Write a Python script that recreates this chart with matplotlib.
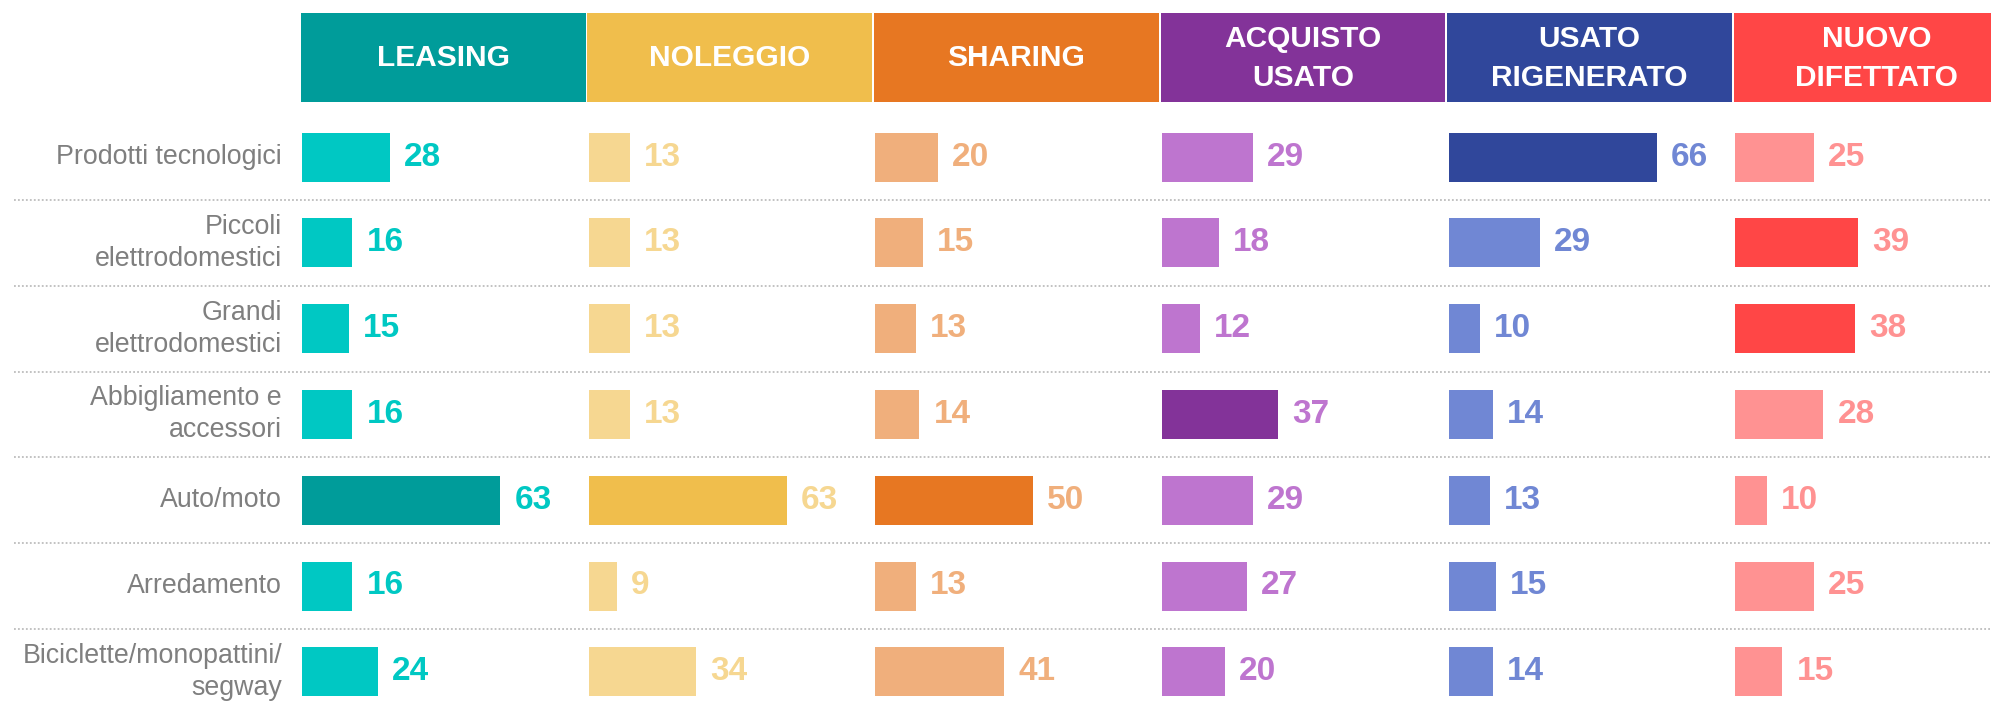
import matplotlib
matplotlib.use("Agg")
import matplotlib.pyplot as plt
from matplotlib.patches import Rectangle
import numpy as np

plt.rcParams['font.family'] = ['Liberation Sans', 'DejaVu Sans']

# --- data -------------------------------------------------------------
categories = [
    "Prodotti tecnologici",
    "Piccoli\nelettrodomestici",
    "Grandi\nelettrodomestici",
    "Abbigliamento e\naccessori",
    "Auto/moto",
    "Arredamento",
    "Biciclette/monopattini/\nsegway",
]
headers = ["LEASING", "NOLEGGIO", "SHARING", "ACQUISTO\nUSATO",
           "USATO\nRIGENERATO", "NUOVO\nDIFETTATO"]

leasing = [28, 16, 15, 16, 63, 16, 24]
noleggio = [13, 13, 13, 13, 63, 9, 34]
sharing = [20, 15, 13, 14, 50, 13, 41]
acquisto_usato = [29, 18, 12, 37, 29, 27, 20]
usato_rigenerato = [66, 29, 10, 14, 13, 15, 14]
nuovo_difettato = [25, 39, 38, 28, 10, 25, 15]

series = [leasing, noleggio, sharing, acquisto_usato,
          usato_rigenerato, nuovo_difettato]

dark_colors = ["#009C9A", "#F0BE4C", "#E77722", "#833399", "#30479B", "#FF4646"]
light_colors = ["#00C8C3", "#F6D791", "#F0AF7C", "#BE75CF", "#7087D4", "#FF9292"]

# --- layout (pixels of the 1991x705 canvas) ---------------------------
W, H = 1991, 705
px_unit = 3.15          # pixels per percentage point
x0_px = 302             # left edge of first column bars
col_step = 91           # column width in data units
row0_px, row_step_px = 157, 85.8

fig = plt.figure(figsize=(W / 100, H / 100), dpi=100)
ax = fig.add_axes([0, 0, 1, 1])
ax.set_xlim(-x0_px / px_unit, (W - x0_px) / px_unit)
ax.set_ylim((H - row0_px) / row_step_px, -row0_px / row_step_px)
ax.axis("off")

rows = np.arange(len(categories))

# header boxes
hdr_top = (13 - row0_px) / row_step_px
hdr_bot = (102 - row0_px) / row_step_px
for c, (name, dc) in enumerate(zip(headers, dark_colors)):
    left = c * col_step - 0.4
    ax.add_patch(Rectangle((left, hdr_top), col_step - 0.6, hdr_bot - hdr_top,
                           facecolor=dc, edgecolor="none"))
    ax.text(left + (col_step - 0.6) / 2, (hdr_top + hdr_bot) / 2 + 0.01, name,
            ha="center", va="center", color="white", fontsize=21.5,
            fontweight="bold", linespacing=1.5)

# dotted separators
sep_left = -(x0_px - 14) / px_unit
ax.hlines(rows[:-1] + 0.5, sep_left, ax.get_xlim()[1],
          colors="#BDBDBD", linestyles=(0, (1, 1.2)), linewidth=1.3)

# category labels
for r, cat in zip(rows, categories):
    ax.text(-20 / px_unit, r, cat, ha="right", va="center", color="#7F7F7F",
            fontsize=19.3, linespacing=1.3)

# bars + value labels
bar_h = 49 / row_step_px
for c, vals in enumerate(series):
    vals = np.array(vals)
    top = vals.max()
    colors = [dark_colors[c] if v >= top - 1 else light_colors[c] for v in vals]
    ax.barh(rows, vals, left=c * col_step, height=bar_h, color=colors)
    for r, v in zip(rows, vals):
        ax.text(c * col_step + v + 14 / px_unit, r, str(v), ha="left",
                va="center", color=light_colors[c], fontsize=24,
                fontweight="bold")

fig.savefig("out.png", dpi=100)
